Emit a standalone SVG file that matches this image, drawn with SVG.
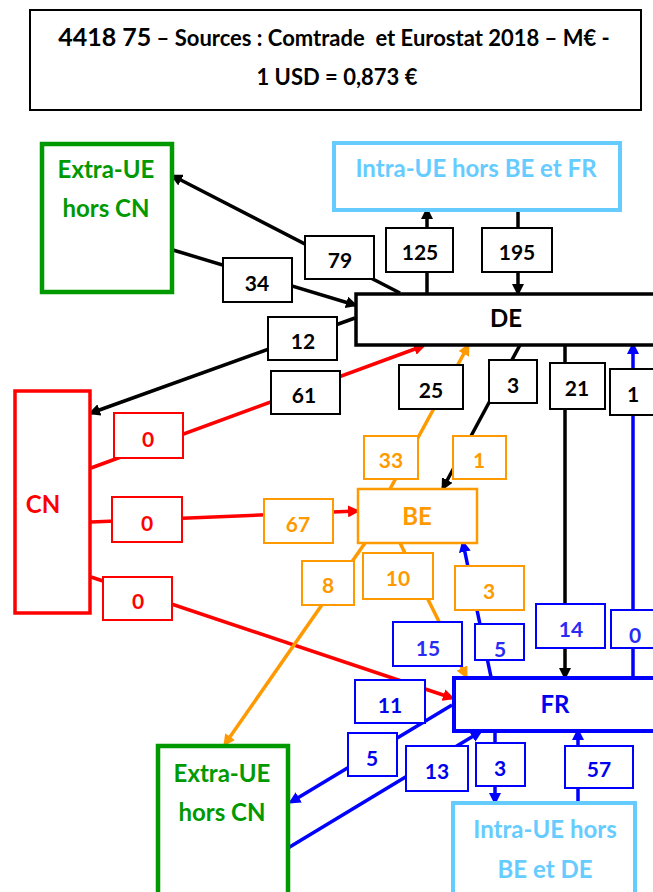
<svg xmlns="http://www.w3.org/2000/svg" width="653" height="892" viewBox="0 0 653 892">
<style>
text{font-family:Lato,"Open Sans","Liberation Sans",sans-serif;font-weight:bold;text-anchor:middle}
.nt{font-size:24px}
.lt{font-size:21px}
.node{fill:#fff}
.lb{fill:#fff;stroke-width:2}
.c{fill:none;stroke-width:3.5}
.k{stroke:#000}.r{stroke:#ff0000}.o{stroke:#ff9900}.b{stroke:#0000ff}
.tk{fill:#000}.tr{fill:#ff0000}.to{fill:#ff9900}.tb{fill:#2a2af5}.tg{fill:#009900}.tl{fill:#66ccff}
</style>
<defs>
<marker id="ak" markerWidth="12" markerHeight="12" refX="9" refY="6" orient="auto" markerUnits="userSpaceOnUse"><path d="M0,0 L12,6 L0,12 z" fill="#000"/></marker>
<marker id="ar" markerWidth="12" markerHeight="12" refX="9" refY="6" orient="auto" markerUnits="userSpaceOnUse"><path d="M0,0 L12,6 L0,12 z" fill="#ff0000"/></marker>
<marker id="ao" markerWidth="12" markerHeight="12" refX="9" refY="6" orient="auto" markerUnits="userSpaceOnUse"><path d="M0,0 L12,6 L0,12 z" fill="#ff9900"/></marker>
<marker id="ab" markerWidth="12" markerHeight="12" refX="9" refY="6" orient="auto" markerUnits="userSpaceOnUse"><path d="M0,0 L12,6 L0,12 z" fill="#0000ff"/></marker>
</defs>
<rect width="653" height="892" fill="#fff"/>

<g id="title">
<rect x="30" y="10" width="611" height="100" fill="#fff" stroke="#000" stroke-width="2"/>
<text x="334" y="46" style="font-size:22px;white-space:pre"><tspan style="font-size:25px">4418 75</tspan> – Sources : Comtrade  et Eurostat 2018 – M€ -</text>
<text x="337" y="85" style="font-size:22px">1 USD = 0,873 €</text>
</g>

<g id="connectors">
<line class="c k" x1="400" y1="293" x2="173" y2="176" marker-end="url(#ak)"/>
<line class="c k" x1="173" y1="250" x2="355" y2="305" marker-end="url(#ak)"/>
<line class="c k" x1="355" y1="318" x2="91" y2="413" marker-end="url(#ak)"/>
<line class="c k" x1="427" y1="293" x2="427" y2="210" marker-end="url(#ak)"/>
<line class="c k" x1="518" y1="210" x2="518" y2="293" marker-end="url(#ak)"/>
<line class="c k" x1="520" y1="345" x2="443" y2="488" marker-end="url(#ak)"/>
<line class="c k" x1="565" y1="345" x2="565" y2="677" marker-end="url(#ak)"/>
<line class="c b" x1="633" y1="677" x2="633" y2="345" marker-end="url(#ab)"/>
<line class="c r" x1="91" y1="468" x2="423" y2="346" marker-end="url(#ar)"/>
<line class="c r" x1="91" y1="522" x2="357" y2="511" marker-end="url(#ar)"/>
<line class="c r" x1="91" y1="577" x2="452" y2="698" marker-end="url(#ar)"/>
<line class="c o" x1="390" y1="489" x2="468" y2="346" marker-end="url(#ao)"/>
<line class="c o" x1="365" y1="543" x2="225" y2="744" marker-end="url(#ao)"/>
<line class="c o" x1="400" y1="543" x2="466" y2="676" marker-end="url(#ao)"/>
<line class="c b" x1="491" y1="677" x2="463" y2="543" marker-end="url(#ab)"/>
<line class="c b" x1="452" y1="705" x2="291" y2="802" marker-end="url(#ab)"/>
<line class="c b" x1="288" y1="848" x2="480" y2="732" marker-end="url(#ab)"/>
<line class="c b" x1="495" y1="731" x2="495" y2="802" marker-end="url(#ab)"/>
<line class="c b" x1="578" y1="802" x2="578" y2="731" marker-end="url(#ab)"/>
</g>

<g id="node-extra-ue-top">
<rect class="node" x="42" y="144" width="130" height="148" stroke="#009900" stroke-width="4.5"/>
<text class="nt tg" x="106" y="178">Extra-UE</text>
<text class="nt tg" x="106" y="217">hors CN</text>
</g>
<g id="node-intra-ue-be-fr">
<rect class="node" x="334" y="143" width="286" height="67" stroke="#66ccff" stroke-width="4"/>
<text class="nt tl" x="476" y="177">Intra-UE hors BE et FR</text>
</g>
<g id="node-de">
<rect class="node" x="356" y="294" width="310" height="51" stroke="#000" stroke-width="3.5"/>
<text class="nt tk" x="506" y="327">DE</text>
</g>
<g id="node-cn">
<rect class="node" x="15" y="391" width="75" height="222" stroke="#ff0000" stroke-width="3.5"/>
<text class="nt tr" x="43" y="513">CN</text>
</g>
<g id="node-be">
<rect class="node" x="358" y="489" width="119" height="54" stroke="#ff9900" stroke-width="2.5"/>
<text class="nt to" x="417" y="525">BE</text>
</g>
<g id="node-fr">
<rect class="node" x="454" y="678" width="210" height="53" stroke="#0000ff" stroke-width="4"/>
<text class="nt" x="555" y="713" fill="#0000ee">FR</text>
</g>
<g id="node-extra-ue-bottom">
<rect class="node" x="158" y="746" width="130" height="160" stroke="#009900" stroke-width="4.5"/>
<text class="nt tg" x="222" y="782">Extra-UE</text>
<text class="nt tg" x="222" y="821">hors CN</text>
</g>
<g id="node-intra-ue-be-de">
<rect class="node" x="453" y="803" width="182" height="100" stroke="#66ccff" stroke-width="4"/>
<text class="nt tl" x="545" y="838">Intra-UE hors</text>
<text class="nt tl" x="545" y="878">BE et DE</text>
</g>

<g id="labels">
<rect class="lb" x="305" y="236" width="69" height="43" stroke="#000"/><text class="lt tk" x="340" y="268">79</text>
<rect class="lb" x="223" y="258" width="69" height="44" stroke="#000"/><text class="lt tk" x="257" y="291">34</text>
<rect class="lb" x="268" y="317" width="69" height="43" stroke="#000"/><text class="lt tk" x="303" y="349">12</text>
<rect class="lb" x="271" y="371" width="69" height="43" stroke="#000"/><text class="lt tk" x="304" y="403">61</text>
<rect class="lb" x="386" y="228" width="67" height="44" stroke="#000"/><text class="lt tk" x="420" y="260">125</text>
<rect class="lb" x="482" y="228" width="70" height="44" stroke="#000"/><text class="lt tk" x="517" y="260">195</text>
<rect class="lb" x="399" y="365" width="64" height="44" stroke="#000"/><text class="lt tk" x="431" y="398">25</text>
<rect class="lb" x="489" y="360" width="48" height="43" stroke="#000"/><text class="lt tk" x="513" y="393">3</text>
<rect class="lb" x="550" y="363" width="55" height="46" stroke="#000"/><text class="lt tk" x="577" y="396">21</text>
<rect class="lb" x="610" y="369" width="60" height="46" stroke="#000"/><text class="lt tk" x="633" y="402">1</text>

<rect class="lb" x="364" y="436" width="54" height="43" stroke="#ff9900"/><text class="lt to" x="391" y="468">33</text>
<rect class="lb" x="453" y="436" width="53" height="43" stroke="#ff9900"/><text class="lt to" x="479" y="468">1</text>
<rect class="lb" x="264" y="499" width="69" height="44" stroke="#ff9900"/><text class="lt to" x="298" y="532">67</text>
<rect class="lb" x="302" y="561" width="52" height="44" stroke="#ff9900"/><text class="lt to" x="328" y="593">8</text>
<rect class="lb" x="363" y="553" width="70" height="46" stroke="#ff9900"/><text class="lt to" x="398" y="586">10</text>
<rect class="lb" x="455" y="566" width="69" height="44" stroke="#ff9900"/><text class="lt to" x="489" y="599">3</text>

<rect class="lb" x="114" y="413" width="69" height="45" stroke="#ff0000"/><text class="lt tr" x="148" y="447">0</text>
<rect class="lb" x="112" y="497" width="70" height="45" stroke="#ff0000"/><text class="lt tr" x="147" y="531">0</text>
<rect class="lb" x="103" y="577" width="69" height="43" stroke="#ff0000"/><text class="lt tr" x="138" y="609">0</text>

<rect class="lb" x="393" y="622" width="69" height="44" stroke="#0000ff"/><text class="lt tb" x="428" y="656">15</text>
<rect class="lb" x="475" y="624" width="49" height="36" stroke="#0000ff"/><text class="lt tb" x="500" y="657">5</text>
<rect class="lb" x="536" y="604" width="69" height="44" stroke="#0000ff"/><text class="lt tb" x="571" y="637">14</text>
<rect class="lb" x="611" y="610" width="60" height="38" stroke="#0000ff"/><text class="lt tb" x="635" y="643">0</text>
<rect class="lb" x="355" y="680" width="70" height="43" stroke="#0000ff"/><text class="lt" x="390" y="713" fill="#0000ee">11</text>
<rect class="lb" x="348" y="733" width="49" height="43" stroke="#0000ff"/><text class="lt" x="372" y="766" fill="#0000ee">5</text>
<rect class="lb" x="406" y="746" width="62" height="45" stroke="#0000ff"/><text class="lt" x="437" y="779" fill="#0000ee">13</text>
<rect class="lb" x="476" y="743" width="49" height="43" stroke="#0000ff"/><text class="lt" x="500" y="776" fill="#0000ee">3</text>
<rect class="lb" x="565" y="746" width="68" height="42" stroke="#0000ff"/><text class="lt" x="599" y="777" fill="#0000ee">57</text>
</g>
</svg>
